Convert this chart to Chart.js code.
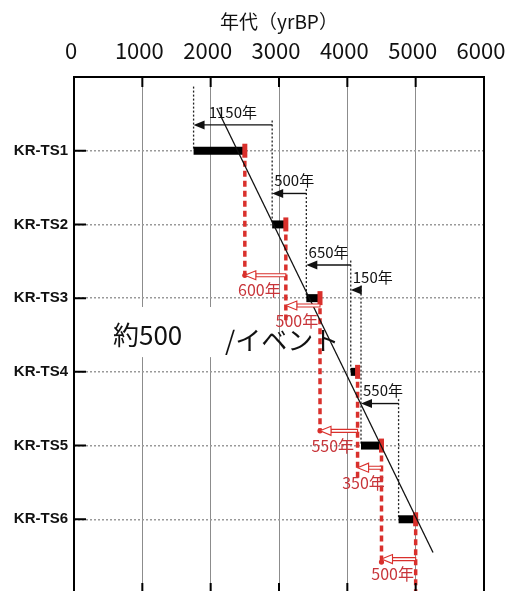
<!DOCTYPE html>
<html>
<head>
<meta charset="utf-8">
<script src="https://cdn.jsdelivr.net/npm/chart.js"></script>
<style>
  html, body { margin: 0; padding: 0; background: #fff; overflow: hidden; }
  canvas { display: block; }
</style>
</head>
<body>
<canvas id="c" width="523" height="608"></canvas>
<script>
// Tsunami-deposit events and their age ranges (yr BP)
const events   = ['KR-TS1', 'KR-TS2', 'KR-TS3', 'KR-TS4', 'KR-TS5', 'KR-TS6'];
const youngAge = [1750, 2900, 3400, 4050, 4200, 4750];   // younger end of each range
const oldAge   = [2500, 3100, 3600, 4150, 4500, 5000];   // older end of each range
const xTicks   = [0, 1000, 2000, 3000, 4000, 5000, 6000];

// Trend line through the events (age, row)
const trendAge = [2090, 5254];
const trendRow = [0.42, 6.45];

// Where the interval arrows sit (row units, 0 = top of the plot)
const blackArrowRow = [0.65, 1.58, 2.55, 2.89, 4.43];
const redArrowRow   = [2.69, 3.10, 4.80, 5.30, 6.54];
const redLineEnd    = [2.69, 3.30, 4.80, 5.45, 6.58, 7.00];

const ink = '#111';
const red = '#d9302c';
const redText = '#c8353a';
const jp = "'Noto Sans CJK JP', 'Noto Sans', sans-serif";

const datasets = [];

// trend line
datasets.push({
  data: trendAge.map((v, i) => ({ x: v, y: trendRow[i] })),
  showLine: true, borderColor: ink, borderWidth: 1.3, order: 1
});

// age-range bars
events.forEach((e, i) => {
  datasets.push({
    data: [{ x: youngAge[i], y: i + 1 }, { x: oldAge[i], y: i + 1 }],
    showLine: true, borderColor: '#000', borderWidth: 8, borderCapStyle: 'butt', order: 3
  });
});

// red caps at the older end of each bar
datasets.push({
  data: oldAge.map((v, i) => ({ x: v, y: i + 1 })),
  showLine: false, pointStyle: 'line', rotation: 90,
  pointRadius: 7, pointBorderWidth: 5, pointBorderColor: red, order: 2
});

// dotted guides from the younger ends
events.forEach((e, i) => {
  const top = i === 0 ? 0.13 : blackArrowRow[i - 1] - 0.06;
  datasets.push({
    data: [{ x: youngAge[i], y: top }, { x: youngAge[i], y: i + 1 }],
    showLine: true, borderColor: '#222', borderWidth: 1.3, borderDash: [2, 2], order: 5
  });
});

// red dashed guides from the older ends
events.forEach((e, i) => {
  const end = redLineEnd[i];
  const dot = (i < redArrowRow.length && Math.abs(end - redArrowRow[i]) < 0.1) ? 2.6 : 0;
  datasets.push({
    data: [{ x: oldAge[i], y: i + 1 }, { x: oldAge[i], y: end }],
    showLine: true, borderColor: red, borderWidth: 3.5, borderDash: [6, 4],
    pointRadius: [0, dot], pointBackgroundColor: red, pointBorderWidth: 0, order: 4
  });
});

const overlay = {
  id: 'overlay',
  beforeDatasetsDraw(chart) {
    const { ctx, scales: { x, y } } = chart;
    ctx.save();
    // caption with a white patch behind it
    const bx0 = x.getPixelForValue(300), bx1 = x.getPixelForValue(2890);
    const by0 = y.getPixelForValue(3.12), by1 = y.getPixelForValue(3.8);
    ctx.fillStyle = '#fff';
    ctx.fillRect(bx0, by0, bx1 - bx0, by1 - by0);
    ctx.fillStyle = ink;
    ctx.font = `26px ${jp}`;
    ctx.textAlign = 'left';
    ctx.textBaseline = 'middle';
    ctx.fillText('約500', x.getPixelForValue(570), y.getPixelForValue(3.5));
    ctx.fillText('/イベント', x.getPixelForValue(2210), y.getPixelForValue(3.57));
    ctx.restore();
  },
  afterDatasetsDraw(chart) {
    const { ctx, scales: { x, y } } = chart;
    ctx.save();
    // black arrows: spacing of the younger ends
    for (let i = 0; i < blackArrowRow.length; i++) {
      const from = youngAge[i + 1], to = youngAge[i];
      const p1 = x.getPixelForValue(from), p0 = x.getPixelForValue(to);
      const py = y.getPixelForValue(blackArrowRow[i]);
      ctx.strokeStyle = ink; ctx.lineWidth = 1.4;
      ctx.beginPath(); ctx.moveTo(p1, py); ctx.lineTo(p0 + 9, py); ctx.stroke();
      ctx.fillStyle = ink;
      ctx.beginPath(); ctx.moveTo(p0, py); ctx.lineTo(p0 + 11, py - 4.5); ctx.lineTo(p0 + 11, py + 4.5); ctx.closePath(); ctx.fill();
      const txt = `${from - to}年`;
      ctx.font = `15px ${jp}`;
      ctx.textBaseline = 'middle';
      const w = ctx.measureText(txt).width;
      if (w > p1 - p0) { ctx.textAlign = 'left'; ctx.fillText(txt, p0 + 2, py - 13); }
      else { ctx.textAlign = 'center'; ctx.fillText(txt, (p0 + p1) / 2, py - 13); }
    }
    // red hollow arrows: spacing of the older ends
    for (let i = 0; i < redArrowRow.length; i++) {
      const from = oldAge[i + 1], to = oldAge[i];
      const p1 = x.getPixelForValue(from), p0 = x.getPixelForValue(to);
      const py = y.getPixelForValue(redArrowRow[i]);
      ctx.strokeStyle = red; ctx.lineWidth = 1.1;
      ctx.fillStyle = '#fff';
      ctx.beginPath(); ctx.rect(p0 + 11, py - 1.5, p1 - p0 - 11, 3); ctx.fill(); ctx.stroke();
      ctx.beginPath(); ctx.moveTo(p0, py); ctx.lineTo(p0 + 11, py - 4.5); ctx.lineTo(p0 + 11, py + 4.5); ctx.closePath();
      ctx.fill(); ctx.stroke();
      ctx.fillStyle = redText;
      ctx.font = `16px ${jp}`;
      ctx.textAlign = 'center';
      ctx.textBaseline = 'middle';
      ctx.fillText(`${from - to}年`, (p0 + p1) / 2 - 6, py + 15);
    }
    ctx.restore();
  },
  afterDraw(chart) {
    const { ctx, chartArea: a, scales: { x, y } } = chart;
    ctx.save();
    ctx.strokeStyle = '#000';
    ctx.lineWidth = 2;
    // inward tick marks
    ctx.beginPath();
    xTicks.slice(1, -1).forEach(v => {
      const px = x.getPixelForValue(v);
      ctx.moveTo(px, a.top); ctx.lineTo(px, a.top + 10);
      ctx.moveTo(px, a.bottom); ctx.lineTo(px, a.bottom - 10);
    });
    events.forEach((e, i) => {
      const py = y.getPixelForValue(i + 1);
      ctx.moveTo(a.left, py); ctx.lineTo(a.left + 12, py);
    });
    ctx.stroke();
    ctx.strokeRect(a.left, a.top, a.right - a.left, a.bottom - a.top);
    ctx.restore();
  }
};

new Chart(document.getElementById('c'), {
  type: 'scatter',
  data: { datasets },
  plugins: [overlay],
  options: {
    responsive: false,
    devicePixelRatio: 1,
    animation: false,
    events: [],
    layout: { padding: { left: 0, right: 39, top: 0, bottom: 0 } },
    elements: { point: { radius: 0, hoverRadius: 0 }, line: { tension: 0 } },
    plugins: { legend: { display: false }, tooltip: { enabled: false } },
    scales: {
      x: {
        type: 'linear', position: 'top', min: 0, max: 6000,
        afterBuildTicks: s => { s.ticks = xTicks.map(v => ({ value: v })); },
        ticks: {
          callback: v => String(v),
          font: { family: jp, size: 22 }, color: ink, padding: 13,
          labelOffset: -3, maxRotation: 0, autoSkip: false
        },
        grid: { color: '#8c8c8c', lineWidth: 1, drawTicks: false },
        border: { display: false },
        title: {
          display: true, text: '年代（yrBP）', color: ink,
          font: { family: jp, size: 19 }, padding: { top: 10, bottom: 0 }
        },
        afterFit: s => { s.height = 77; }
      },
      y: {
        type: 'linear', min: 0, max: 7, reverse: true,
        afterBuildTicks: s => { s.ticks = [0, 1, 2, 3, 4, 5, 6, 7].map(v => ({ value: v })); },
        ticks: {
          callback: v => events[v - 1] || '',
          font: { family: "'Liberation Sans', Arial, sans-serif", size: 15, weight: 'bold' },
          color: ink, padding: 6, autoSkip: false
        },
        grid: {
          color: c => (c.tick && c.tick.value >= 1 && c.tick.value <= 6) ? '#9a9a9a' : 'rgba(0,0,0,0)',
          lineWidth: 1.5, drawTicks: false
        },
        border: { display: false, dash: [2, 2] },
        afterFit: s => { s.width = 74; }
      }
    }
  }
});
</script>
</body>
</html>
